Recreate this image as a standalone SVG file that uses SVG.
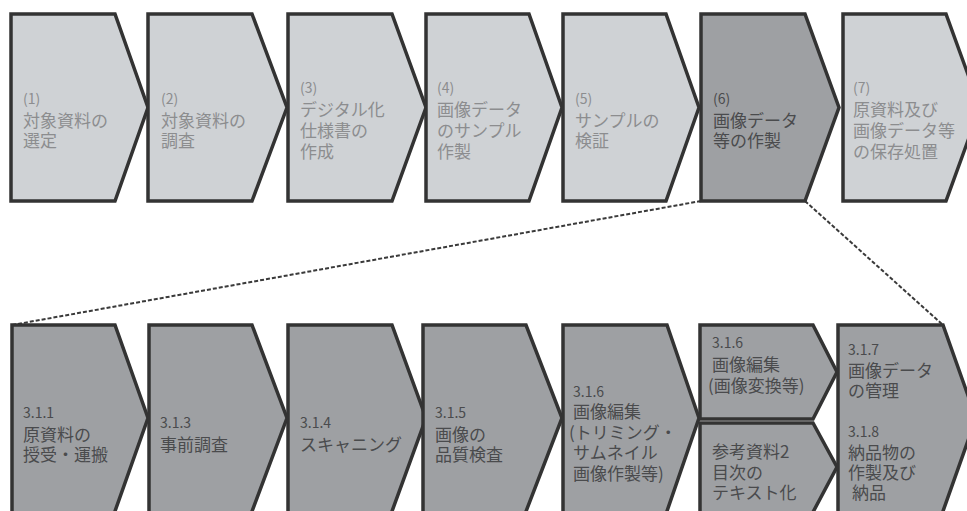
<svg xmlns="http://www.w3.org/2000/svg" width="967" height="511" viewBox="0 0 967 511">
<style>
  .lt { fill: #cfd2d5; stroke: #333; stroke-width: 3.5; stroke-linejoin: miter; }
  .dk { fill: #9ea0a3; stroke: #333; stroke-width: 3.5; stroke-linejoin: miter; }
  text { font-family: "Noto Sans CJK JP", "Noto Sans", sans-serif; font-size: 17px; }
  .tl { fill: #8c8d8f; }
  .td { fill: #4a4b4d; }
  .num { font-size: 14px; }
  .conn { fill: none; stroke: #3a3a3a; stroke-width: 2; stroke-dasharray: 4 2; }
</style>
<rect width="967" height="511" fill="#ffffff"/>

<g id="connectors">
  <path class="conn" d="M701,201 L12,325"/>
  <path class="conn" d="M805,201 L943,325"/>
</g>

<g id="step1">
  <polygon class="lt" points="11,14 115,14 148,107.5 115,201 11,201"/>
  <text class="tl"><tspan class="num" x="23" y="104">(1)</tspan><tspan x="23" y="127">対象資料の</tspan><tspan x="23" y="147">選定</tspan></text>
</g>
<g id="step2">
  <polygon class="lt" points="148,14 252,14 287,107.5 252,201 148,201"/>
  <text class="tl"><tspan class="num" x="161" y="104">(2)</tspan><tspan x="161" y="127">対象資料の</tspan><tspan x="161" y="147">調査</tspan></text>
</g>
<g id="step3">
  <polygon class="lt" points="288,14 392,14 426,107.5 392,201 288,201"/>
  <text class="tl"><tspan class="num" x="300" y="93">(3)</tspan><tspan x="300" y="116">デジタル化</tspan><tspan x="300" y="137">仕様書の</tspan><tspan x="300" y="158">作成</tspan></text>
</g>
<g id="step4">
  <polygon class="lt" points="426,14 529,14 562,107.5 529,201 426,201"/>
  <text class="tl"><tspan class="num" x="437" y="93">(4)</tspan><tspan x="437" y="116">画像データ</tspan><tspan x="437" y="137">のサンプル</tspan><tspan x="437" y="158">作製</tspan></text>
</g>
<g id="step5">
  <polygon class="lt" points="563,14 666,14 699,107.5 666,201 563,201"/>
  <text class="tl"><tspan class="num" x="575" y="104">(5)</tspan><tspan x="575" y="127">サンプルの</tspan><tspan x="575" y="147">検証</tspan></text>
</g>
<g id="step6">
  <polygon class="dk" points="701,14 805,14 839,107.5 805,201 701,201"/>
  <text class="td"><tspan class="num" x="713" y="104">(6)</tspan><tspan x="713" y="127">画像データ</tspan><tspan x="713" y="147">等の作製</tspan></text>
</g>
<g id="step7">
  <polygon class="lt" points="843,14 946,14 980,107.5 946,201 843,201"/>
  <text class="tl"><tspan class="num" x="853" y="93">(7)</tspan><tspan x="853" y="116">原資料及び</tspan><tspan x="853" y="137">画像データ等</tspan><tspan x="853" y="158">の保存処置</tspan></text>
</g>

<g id="s311">
  <polygon class="dk" points="12,325 115,325 148,418 114,514 12,514"/>
  <text class="td"><tspan class="num" x="23" y="418">3.1.1</tspan><tspan x="23" y="441">原資料の</tspan><tspan x="23" y="461">授受・運搬</tspan></text>
</g>
<g id="s313">
  <polygon class="dk" points="149,325 252,325 287,418 251,514 149,514"/>
  <text class="td"><tspan class="num" x="160" y="428">3.1.3</tspan><tspan x="160" y="451">事前調査</tspan></text>
</g>
<g id="s314">
  <polygon class="dk" points="288,325 392,325 426,418 391,514 288,514"/>
  <text class="td"><tspan class="num" x="300" y="428">3.1.4</tspan><tspan x="300" y="451">スキャニング</tspan></text>
</g>
<g id="s315">
  <polygon class="dk" points="423,325 526,325 562,418 525,514 423,514"/>
  <text class="td"><tspan class="num" x="435" y="418">3.1.5</tspan><tspan x="435" y="441">画像の</tspan><tspan x="435" y="461">品質検査</tspan></text>
</g>
<g id="s316a">
  <polygon class="dk" points="563,325 667,325 699,418 666,514 563,514"/>
  <text class="td"><tspan class="num" x="573" y="397">3.1.6</tspan><tspan x="573" y="418">画像編集</tspan><tspan x="569" y="439">(トリミング・</tspan><tspan x="573" y="459">サムネイル</tspan><tspan x="573" y="480">画像作製等)</tspan></text>
</g>
<g id="s316b">
  <polygon class="dk" points="700,325 813,325 837,372 813,419 700,419"/>
  <text class="td"><tspan class="num" x="712" y="348">3.1.6</tspan><tspan x="712" y="371">画像編集</tspan><tspan x="708" y="392">(画像変換等)</tspan></text>
</g>
<g id="ref2">
  <polygon class="dk" points="700,423 813,423 837,467 812,514 700,514"/>
  <text class="td"><tspan x="712" y="458">参考資料2</tspan><tspan x="712" y="479">目次の</tspan><tspan x="712" y="499">テキスト化</tspan></text>
</g>
<g id="s317">
  <polygon class="dk" points="838,325 943,325 976,418 942,514 838,514"/>
  <text class="td"><tspan class="num" x="848" y="355">3.1.7</tspan><tspan x="848" y="377">画像データ</tspan><tspan x="848" y="397">の管理</tspan><tspan class="num" x="848" y="437">3.1.8</tspan><tspan x="848" y="459">納品物の</tspan><tspan x="848" y="479">作製及び</tspan><tspan x="852" y="499">納品</tspan></text>
</g>
</svg>
